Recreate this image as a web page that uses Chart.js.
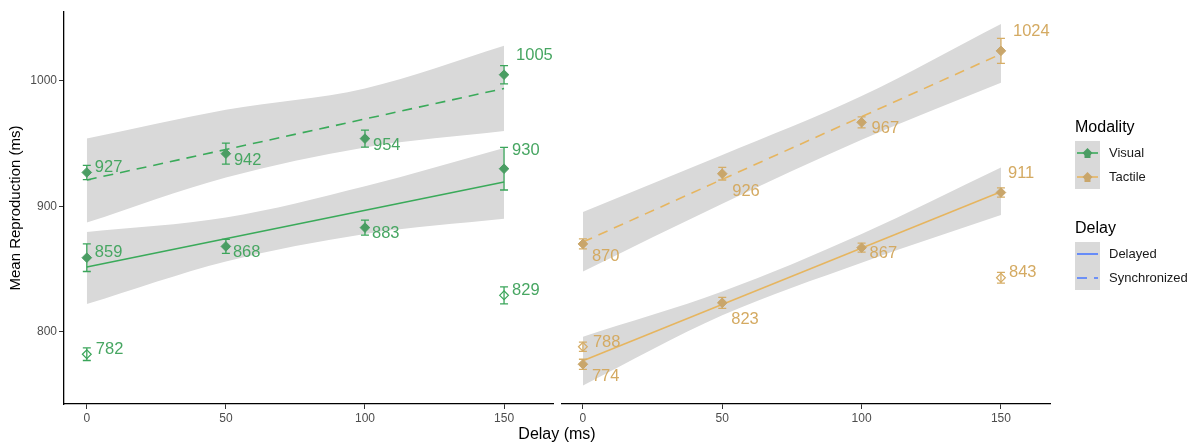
<!DOCTYPE html>
<html>
<head>
<meta charset="utf-8">
<script src="https://cdn.jsdelivr.net/npm/chart.js@4.4.0/dist/chart.umd.min.js"></script>
<style>
  html, body { margin: 0; padding: 0; background: #fff; }
  #wrap { position: relative; width: 1193px; height: 443px; }
  canvas { position: absolute; left: 0; top: 0; }
</style>
</head>
<body>
<div id="wrap">
  <canvas id="visual" width="1193" height="443"></canvas>
  <canvas id="tactile" width="1193" height="443"></canvas>
</div>
<script>
// ─── data ───────────────────────────────────────────────────
const delays = [0, 50, 100, 150];
const baseX = [0, 150];            // delays of the hollow (baseline) points, also fit-line ends
const xTicks = [0, 50, 100, 150];
const yTicks = [800, 900, 1000];

// Visual
const visSync = [927, 942, 954, 1005];
const visSyncErr = [5.7, 8.4, 6.8, 7.3];
const visDel = [859, 868, 883, 930];
const visDelErr = [11, 5.6, 6, 17];
const visBase = [782, 829];
const visBaseErr = [5, 6.8];
const visSyncFit = [921, 994];
const visDelFit = [851.6, 919.4];
const visSyncHi = [954, 977, 994, 1028];
const visSyncLo = [887, 923, 947, 960];
const visDelHi = [879.5, 891, 916, 946.5];
const visDelLo = [822, 856, 878, 890];

// Tactile
const tacSync = [870, 926, 967, 1024];
const tacSyncErr = [4, 5, 4.4, 10];
const tacDel = [774, 823, 867, 911];
const tacDelErr = [4, 4.4, 3.6, 3.7];
const tacBase = [788, 843];
const tacBaseErr = [3.7, 4.3];
const tacSyncFit = [871.5, 1021.5];
const tacDelFit = [776.8, 911.7];
const tacSyncHi = [895.5, 941, 988, 1045.5];
const tacSyncLo = [848, 902, 953, 998.5];
const tacDelHi = [796, 832, 878, 931];
const tacDelLo = [757, 813, 855, 893];

// label nudges (px from the point: dx to text start, dy to text middle)
const visSyncLab = [[8, -5], [8, 7], [8, 7], [12, -19]];
const visDelLab = [[8, -5], [7, 6], [7, 6], [8, -18]];
const visBaseLab = [[9, -5], [8, -5]];
const tacSyncLab = [[9, 13], [10, 18], [10, 6], [12, -19]];
const tacDelLab = [[9, 12], [9, 17], [8, 6], [7, -19]];
const tacBaseLab = [[10, -4], [8, -5]];

// ─── styles ──────────────────────────────────────────────────
const FONT = '"Liberation Sans", Arial, Helvetica, sans-serif';
const BAND = '#d9d9d9';
const GREEN = { line: '#3aaa5a', pt: '#4a9d63', lab: '#47a662', bar: '#3aa55a' };
const TAN = { line: '#e6b55f', pt: '#c9a66b', lab: '#d4aa62', bar: '#d6ad66' };
const DASH = [10, 7];

const pts = (xs, ys) => xs.map((x, i) => ({ x, y: ys[i] }));

function band(hi, lo) {
    return [
        { data: pts(delays, lo), borderWidth: 0, pointRadius: 0, fill: false, order: 5, cubicInterpolationMode: 'monotone' },
        { data: pts(delays, hi), borderWidth: 0, pointRadius: 0, fill: '-1', backgroundColor: BAND, order: 5, cubicInterpolationMode: 'monotone' }
    ];
}

function fit(vals, col, dashed) {
    return { data: pts(baseX, vals), borderColor: col.line, borderWidth: 1.6, borderDash: dashed ? DASH : [], pointRadius: 0, fill: false, order: 3 };
}

function marks(xs, vals, errs, labOff, col, hollow) {
    return {
        data: pts(xs, vals), showLine: false, order: 1,
        pointStyle: 'rectRot', pointRadius: hollow ? 4.4 : 4.8,
        pointBackgroundColor: hollow ? 'rgba(0,0,0,0)' : col.pt,
        pointBorderColor: hollow ? col.bar : col.pt,
        pointBorderWidth: hollow ? 1.2 : 1,
        errs, labOff, barColor: col.bar, labColor: col.lab
    };
}

// error bars under the points, value labels on top
const errorBars = {
    id: 'errorBars',
    beforeDatasetDraw(chart, args) {
        const ds = chart.data.datasets[args.index];
        if (!ds.errs) return;
        const { ctx, scales: { x, y } } = chart;
        ctx.save();
        ctx.strokeStyle = ds.barColor;
        ctx.lineWidth = 1.3;
        ds.data.forEach((p, i) => {
            const px = x.getPixelForValue(p.x);
            const y0 = y.getPixelForValue(p.y - ds.errs[i]);
            const y1 = y.getPixelForValue(p.y + ds.errs[i]);
            ctx.beginPath();
            ctx.moveTo(px, y0); ctx.lineTo(px, y1);
            ctx.moveTo(px - 4, y0); ctx.lineTo(px + 4, y0);
            ctx.moveTo(px - 4, y1); ctx.lineTo(px + 4, y1);
            ctx.stroke();
        });
        ctx.restore();
    },
    afterDatasetsDraw(chart) {
        const { ctx, scales: { x, y } } = chart;
        ctx.save();
        ctx.font = '16.5px ' + FONT;
        ctx.textAlign = 'left';
        ctx.textBaseline = 'middle';
        chart.data.datasets.forEach(ds => {
            if (!ds.labOff) return;
            ctx.fillStyle = ds.labColor;
            ds.data.forEach((p, i) => {
                const [dx, dy] = ds.labOff[i];
                ctx.fillText(String(p.y), x.getPixelForValue(p.x) + dx, y.getPixelForValue(p.y) + dy);
            });
        });
        ctx.restore();
    }
};

// shared x title + legends, drawn on the right-hand panel
const extras = {
    id: 'extras',
    afterDraw(chart) {
        const ctx = chart.ctx;
        ctx.save();
        ctx.fillStyle = '#000';
        ctx.font = '16px ' + FONT;
        ctx.textAlign = 'center';
        ctx.textBaseline = 'alphabetic';
        ctx.fillText('Delay (ms)', 557, 438.5);

        ctx.textAlign = 'left';
        ctx.fillText('Modality', 1075, 132);
        ctx.fillText('Delay', 1075, 233);

        ctx.fillStyle = BAND;
        ctx.fillRect(1075, 141, 25, 48);
        ctx.fillRect(1075, 242, 25, 48);

        [[GREEN, 153, 'Visual'], [TAN, 177, 'Tactile']].forEach(([col, ky, txt]) => {
            ctx.strokeStyle = col.line;
            ctx.lineWidth = 1.6;
            ctx.setLineDash([]);
            ctx.beginPath(); ctx.moveTo(1077, ky); ctx.lineTo(1098, ky); ctx.stroke();
            ctx.fillStyle = col.pt;
            ctx.beginPath();
            ctx.moveTo(1087.5, ky - 5); ctx.lineTo(1092.5, ky); ctx.lineTo(1087.5, ky + 5); ctx.lineTo(1082.5, ky);
            ctx.closePath(); ctx.fill();
            ctx.fillRect(1084.5, ky, 6, 5);
            ctx.fillStyle = '#1a1a1a';
            ctx.font = '13px ' + FONT;
            ctx.textBaseline = 'middle';
            ctx.fillText(txt, 1109, ky);
        });

        [[[], 254, 'Delayed'], [DASH, 278, 'Synchronized']].forEach(([dash, ky, txt]) => {
            ctx.strokeStyle = '#4a78ff';
            ctx.lineWidth = 1.6;
            ctx.setLineDash(dash);
            ctx.beginPath(); ctx.moveTo(1077, ky); ctx.lineTo(1098, ky); ctx.stroke();
            ctx.fillStyle = '#1a1a1a';
            ctx.fillText(txt, 1109, ky);
        });
        ctx.restore();
    }
};

function xScale(min) {
    return {
        type: 'linear', min, max: 167.6,
        afterBuildTicks: s => { s.ticks = xTicks.map(v => ({ value: v })); },
        afterFit: s => { s.height = 39; },
        grid: { drawOnChartArea: false, drawTicks: true, tickLength: 5, tickColor: '#333', tickWidth: 1 },
        border: { display: true, color: '#000', width: 1.3 },
        ticks: { color: '#4d4d4d', font: { size: 12, family: FONT }, padding: 2, maxRotation: 0, callback: v => String(v) }
    };
}

function yScale(show) {
    return {
        type: 'linear', min: 742.3, max: 1055, display: show,
        afterBuildTicks: s => { s.ticks = yTicks.map(v => ({ value: v })); },
        afterFit: s => { s.width = show ? 64 : 0; },
        grid: { drawOnChartArea: false, drawTicks: true, tickLength: 5, tickColor: '#333', tickWidth: 1 },
        border: { display: true, color: '#000', width: 1.3 },
        ticks: { color: '#4d4d4d', font: { size: 12, family: FONT }, padding: 2, callback: v => String(v) },
        title: { display: true, text: 'Mean Reproduction (ms)', color: '#000', font: { size: 15, family: FONT }, padding: { top: 7, bottom: 0 } }
    };
}

function options(show, xmin, pad) {
    return {
        responsive: false, animation: false, devicePixelRatio: 1, events: [],
        layout: { padding: pad },
        plugins: { legend: { display: false }, tooltip: { enabled: false } },
        scales: { x: xScale(xmin), y: yScale(show) }
    };
}

// ─── left panel: Visual ─────────────────────────────────────
new Chart(document.getElementById('visual'), {
    type: 'line',
    data: {
        datasets: [
            ...band(visSyncHi, visSyncLo),
            ...band(visDelHi, visDelLo),
            fit(visSyncFit, GREEN, true),
            fit(visDelFit, GREEN, false),
            marks(delays, visSync, visSyncErr, visSyncLab, GREEN, false),
            marks(delays, visDel, visDelErr, visDelLab, GREEN, false),
            marks(baseX, visBase, visBaseErr, visBaseLab, GREEN, true)
        ]
    },
    options: options(true, -8.2, { left: 0, right: 640, top: 12, bottom: 0 }),
    plugins: [errorBars]
});

// ─── right panel: Tactile ───────────────────────────────────
new Chart(document.getElementById('tactile'), {
    type: 'line',
    data: {
        datasets: [
            ...band(tacSyncHi, tacSyncLo),
            ...band(tacDelHi, tacDelLo),
            fit(tacSyncFit, TAN, true),
            fit(tacDelFit, TAN, false),
            marks(delays, tacSync, tacSyncErr, tacSyncLab, TAN, false),
            marks(delays, tacDel, tacDelErr, tacDelLab, TAN, false),
            marks(baseX, tacBase, tacBaseErr, tacBaseLab, TAN, true)
        ]
    },
    options: options(false, -7.5, { left: 562, right: 143, top: 12, bottom: 0 }),
    plugins: [errorBars, extras]
});
</script>
</body>
</html>
